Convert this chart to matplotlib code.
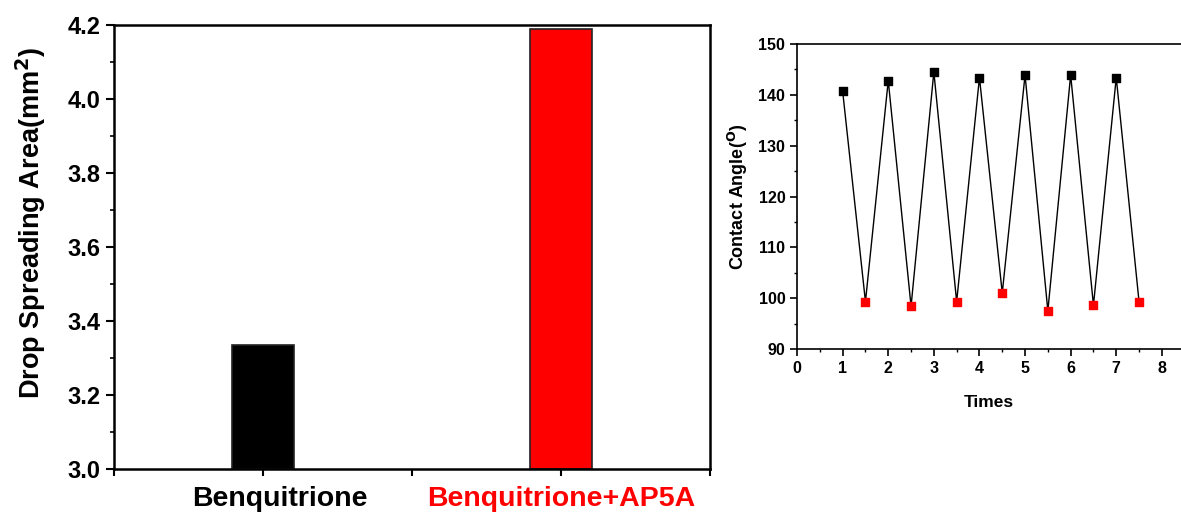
import matplotlib
matplotlib.use('Agg')
import matplotlib.pyplot as plt
from matplotlib.ticker import MultipleLocator

plt.rcParams['font.family'] = ['Liberation Sans', 'DejaVu Sans']
plt.rcParams['font.weight'] = 'bold'

# left panel: drop spreading area
samples = ['Benquitrione', 'Benquitrione+AP5A']
sample_pos = [1, 3]
area = [3.335, 4.189]
bar_colors = ['black', 'red']

# right panel: contact angle cycling
times = [1, 1.5, 2, 2.5, 3, 3.5, 4, 4.5, 5, 5.5, 6, 6.5, 7, 7.5]
angle = [140.7, 99.3, 142.8, 98.4, 144.5, 99.3, 143.4, 101.0,
         143.9, 97.5, 143.9, 98.6, 143.4, 99.3]

fig = plt.figure(figsize=(11.81, 5.14), dpi=100)

ax1 = fig.add_axes([0.0965, 0.0875, 0.5047, 0.8638])
ax1.bar(sample_pos, [a - 3.0 for a in area], bottom=3.0, width=0.41,
        color=bar_colors, edgecolor='#222222', linewidth=1.2)
ax1.set_xlim(0, 4)
ax1.set_ylim(3.0, 4.2)
ax1.set_xticks([0, 1, 2, 3, 4])
ax1.set_xticklabels([])
# category names, the first one sits a little right of its tick
for name, pos, col, dx in zip(samples, sample_pos, bar_colors, [12, 0]):
    ax1.annotate(name, xy=(pos, 0), xycoords=('data', 'axes fraction'),
                 xytext=(dx, -12.5), textcoords='offset points',
                 ha='center', va='top', fontsize=20.5, fontweight='bold', color=col)
ax1.yaxis.set_major_locator(MultipleLocator(0.2))
ax1.yaxis.set_minor_locator(MultipleLocator(0.1))
ax1.yaxis.set_major_formatter(plt.FormatStrFormatter('%.1f'))
ax1.tick_params(axis='y', labelsize=17, width=1.5, length=6)
ax1.tick_params(axis='y', which='minor', width=1.2, length=3)
ax1.tick_params(axis='x', width=1.5, length=5)
ax1.set_ylabel('Drop Spreading Area(mm$^\\mathbf{2}$)', fontsize=19.5, fontweight='bold')
ax1.yaxis.set_label_coords(-0.111, 0.554)
for s in ax1.spines.values():
    s.set_linewidth(1.8)

ax2 = fig.add_axes([0.6749, 0.321, 0.3251, 0.5934])
ax2.plot(times, angle, color='black', linewidth=1.0, zorder=1)
ax2.scatter(times[0::2], angle[0::2], marker='s', s=30, color='black', zorder=2)
ax2.scatter(times[1::2], angle[1::2], marker='s', s=30, color='red', zorder=2)
ax2.set_xlim(0, 8.42)
ax2.set_ylim(90, 150)
ax2.xaxis.set_major_locator(MultipleLocator(1))
ax2.xaxis.set_minor_locator(MultipleLocator(0.5))
ax2.yaxis.set_major_locator(MultipleLocator(10))
ax2.yaxis.set_minor_locator(MultipleLocator(5))
ax2.tick_params(labelsize=11.5, width=1.2, length=5)
ax2.tick_params(which='minor', width=1.0, length=2.5)
ax2.spines['right'].set_visible(False)
for s in ax2.spines.values():
    s.set_linewidth(1.2)
ax2.set_xlabel('Times', fontsize=12.5, fontweight='bold', labelpad=14)
ax2.set_ylabel('Contact Angle($^\\mathbf{O}$)', fontsize=13, fontweight='bold', labelpad=6)

fig.savefig('out.png', dpi=100)
